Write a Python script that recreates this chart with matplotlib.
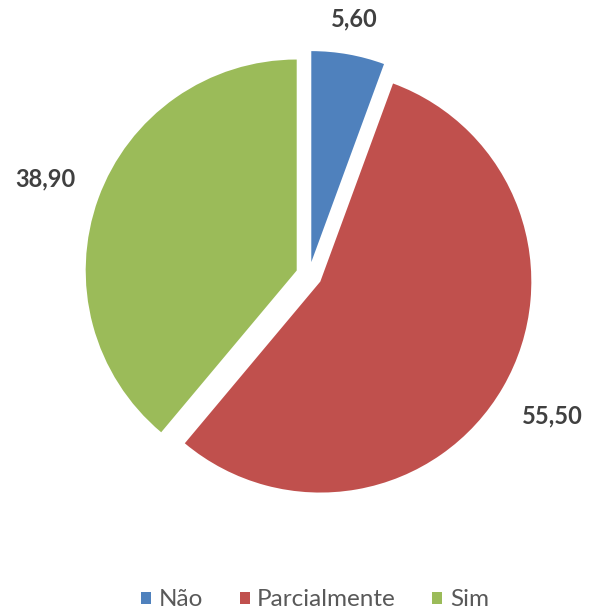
import numpy as np
import matplotlib
matplotlib.use("Agg")
import matplotlib.pyplot as plt
from matplotlib.patches import Patch

categories = ["Não", "Parcialmente", "Sim"]
values = [5.60, 55.50, 38.90]
value_labels = ["5,60", "55,50", "38,90"]
colors = ["#4F81BD", "#C0504D", "#9BBB59"]
explode = [0.062, 0.062, 0.062]
label_dist = [1.17, 1.27, 1.265]

W, H = 592, 609
fig = plt.figure(figsize=(W / 100, H / 100), dpi=100)
ax = fig.add_axes([0, 0, 1, 1])

R = 211.0
cx, cy = 309.0, 275.0
wedges, _ = ax.pie(values, colors=colors, startangle=90, counterclock=False,
                   explode=explode, radius=1.0, wedgeprops=dict(linewidth=0))
ax.set_xlim(-cx / R, (W - cx) / R)
ax.set_ylim(-(H - cy) / R, cy / R)
ax.set_aspect("equal")
ax.axis("off")

for w, lab, ld in zip(wedges, value_labels, label_dist):
    mid = np.deg2rad((w.theta1 + w.theta2) / 2)
    x0, y0 = w.center
    d = ld * w.r
    ax.text(x0 + d * np.cos(mid), y0 + d * np.sin(mid), lab,
            ha="center", va="center", fontsize=17, fontweight="bold",
            color="#404040", family=["Lato", "DejaVu Sans"])

handles = [Patch(facecolor=c, edgecolor="none") for c in colors]
fig.legend(handles, categories, loc="center", bbox_to_anchor=(315 / W, 1 - 600 / H),
           ncol=3, frameon=False, handlelength=0.42, handleheight=0.42,
           handletextpad=0.3, columnspacing=1.5, borderpad=0, borderaxespad=0,
           prop={"family": ["Lato", "DejaVu Sans"], "size": 17.5},
           labelcolor="#595959")

fig.savefig("out.png", dpi=100)
